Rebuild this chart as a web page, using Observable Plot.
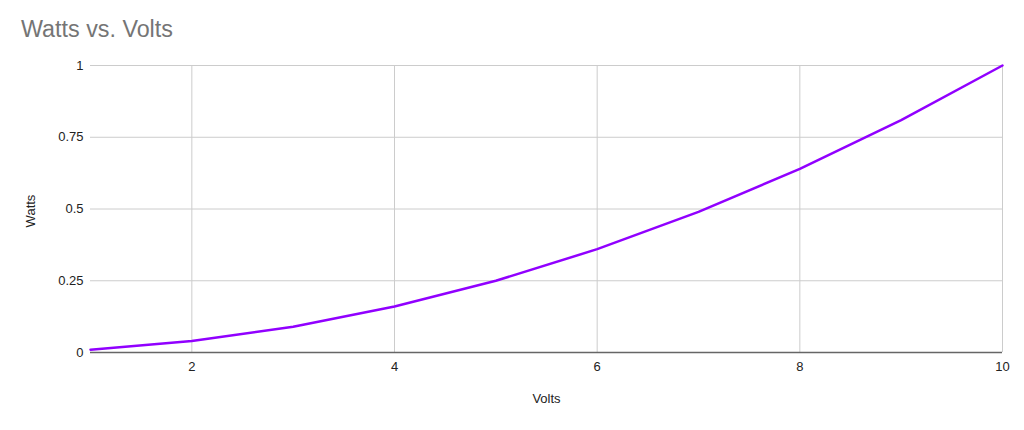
<!DOCTYPE html>
<html>
<head>
<meta charset="utf-8">
<script src="https://cdn.jsdelivr.net/npm/d3@7"></script>
<script src="https://cdn.jsdelivr.net/npm/@observablehq/plot@0.6"></script>
<style>
  body { margin: 0; background: #fff; font-family: "Liberation Sans", Arial, sans-serif; }
  #title { height: 50px; position: relative; }
  #title span { position: absolute; left: 21px; top: 17.5px; font-size: 23.3px; color: #757575; line-height: 1; white-space: nowrap; }
</style>
</head>
<body>
<div id="title"><span>Watts vs. Volts</span></div>
<div id="chart"></div>
<script>
const volts = [1, 2, 3, 4, 5, 6, 7, 8, 9, 10];
const watts = [0.01, 0.04, 0.09, 0.16, 0.25, 0.36, 0.49, 0.64, 0.81, 1.0];
const xTicks = [2, 4, 6, 8, 10];
const yTicks = [0, 0.25, 0.5, 0.75, 1];
const xLabel = "Volts";
const yLabel = "Watts";

const data = volts.map((v, i) => ({v, w: watts[i]}));

const chart = Plot.plot({
  width: 1024,
  height: 380,
  marginTop: 15,
  marginBottom: 78,
  marginLeft: 90,
  marginRight: 22,
  style: {fontFamily: "'Liberation Sans', Arial, sans-serif", fontSize: "13px", color: "#222"},
  x: {domain: [1, 10]},
  y: {domain: [0, 1]},
  marks: [
    Plot.gridY(yTicks.filter(d => d > 0), {stroke: "#cccccc", strokeOpacity: 1, strokeWidth: 1}),
    Plot.gridX(xTicks, {stroke: "#cccccc", strokeOpacity: 1, strokeWidth: 1}),
    Plot.axisY(yTicks, {tickSize: 0, tickPadding: 7, label: null, tickFormat: d => String(d), fill: "#222"}),
    Plot.axisX(xTicks, {tickSize: 0, tickPadding: 9, label: null, tickFormat: d => String(d), fill: "#222"}),
    Plot.ruleY([0], {stroke: "#666", strokeWidth: 1.5}),
    Plot.line(data, {x: "v", y: "w", stroke: "#9100ff", strokeWidth: 2.5}),
    Plot.text([xLabel], {frameAnchor: "bottom", dy: 50, text: d => d, fontSize: 13, fill: "#222"}),
    Plot.text([yLabel], {frameAnchor: "left", textAnchor: "middle", dx: -60, dy: 2, rotate: -90, text: d => d, fontSize: 13, fill: "#222"})
  ]
});
document.getElementById("chart").appendChild(chart);
</script>
</body>
</html>
